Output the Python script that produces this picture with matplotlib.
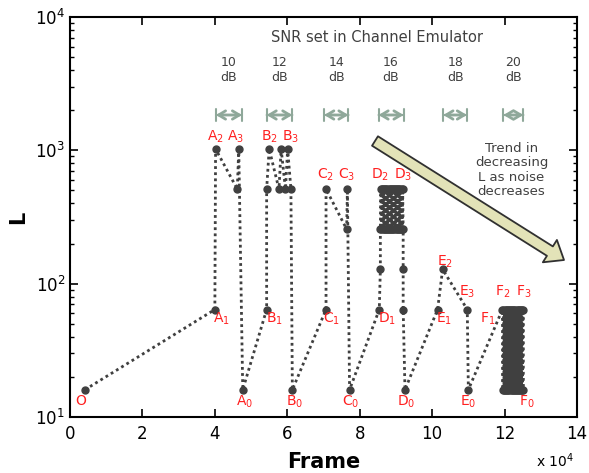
import matplotlib
matplotlib.use("Agg")
import matplotlib.pyplot as plt
import matplotlib.transforms as mtransforms

# ---- data (frame in units of 1e4, L values) ----
frames = [0.41, 4.00, 4.02, 4.62, 4.66, 4.77,
          5.43, 5.43, 5.50, 5.77, 5.83, 5.95, 6.01, 6.10, 6.14,
          7.07, 7.07, 7.64, 7.66, 7.72,
          8.54, 8.57, 8.57,
          8.585, 8.600, 8.615, 8.630, 8.645, 8.660, 8.675, 8.690, 8.705, 8.720,
          8.735, 8.750, 8.765, 8.780, 8.795, 8.810, 8.825, 8.840, 8.855, 8.870,
          8.885, 8.900, 8.915, 8.930, 8.945, 8.960, 8.975, 8.990, 9.005, 9.020,
          9.035, 9.050, 9.065, 9.080, 9.095, 9.110, 9.125, 9.140, 9.155, 9.170,
          9.185, 9.200,
          9.20, 9.20, 9.25,
          10.15, 10.29, 10.97, 11.00,
          11.94,
          11.955, 11.970, 11.985, 12.000, 12.015, 12.030, 12.045, 12.060, 12.075, 12.090,
          12.105, 12.120, 12.135, 12.150, 12.165, 12.180, 12.195, 12.210, 12.225, 12.240,
          12.255, 12.270, 12.285, 12.300, 12.315, 12.330, 12.345, 12.360, 12.375, 12.390,
          12.405, 12.420, 12.435, 12.450, 12.465, 12.480, 12.495, 12.510, 12.520]
L_values = [16, 64, 1024, 512, 1024, 16,
            64, 512, 1024, 512, 1024, 512, 1024, 512, 16,
            64, 512, 256, 512, 16,
            64, 128, 256,
            512, 256, 512, 256, 512, 256, 512, 256, 512, 256,
            512, 256, 512, 256, 512, 256, 512, 256, 512, 256,
            512, 256, 512, 256, 512, 256, 512, 256, 512, 256,
            512, 256, 512, 256, 512, 256, 512, 256, 512, 256,
            512, 256,
            128, 64, 16,
            64, 128, 64, 16,
            64,
            16, 64, 16, 64, 16, 64, 16, 64, 16, 64,
            16, 64, 16, 64, 16, 64, 16, 64, 16, 64,
            16, 64, 16, 64, 16, 64, 16, 64, 16, 64,
            16, 64, 16, 64, 16, 64, 16, 64, 16]

point_labels = ["O", "A$_1$", "A$_2$", "A$_3$", "A$_0$",
                "B$_1$", "B$_2$", "B$_3$", "B$_0$",
                "C$_1$", "C$_2$", "C$_3$", "C$_0$",
                "D$_1$", "D$_2$", "D$_3$", "D$_0$",
                "E$_1$", "E$_2$", "E$_3$", "E$_0$",
                "F$_1$", "F$_2$", "F$_3$", "F$_0$"]
label_frames = [0.41, 4.00, 4.02, 4.66, 4.77,
                5.43, 5.50, 6.01, 6.14,
                7.07, 7.07, 7.66, 7.72,
                8.54, 8.57, 9.20, 9.25,
                10.15, 10.29, 10.97, 11.00,
                11.94, 11.94, 12.52, 12.52]
label_L = [16, 64, 1024, 1024, 16,
           64, 1024, 1024, 16,
           64, 512, 512, 16,
           64, 512, 512, 16,
           64, 128, 64, 16,
           64, 64, 64, 16]
label_offsets = [(-4, -11), (7, -9), (0, 12), (-3, 12), (2, -12),
                 (8, -9), (0, 12), (3, 12), (2, -12),
                 (6, -9), (-1, 14), (-1, 14), (1, -12),
                 (8, -9), (0, 14), (0, 14), (1, -12),
                 (7, -9), (2, 8), (0, 18), (0, -12),
                 (-15, -9), (0, 18), (0, 18), (3, -12)]

snr_labels = ["10\ndB", "12\ndB", "14\ndB", "16\ndB", "18\ndB", "20\ndB"]
snr_start = [4.03, 5.43, 7.02, 8.52, 10.31, 11.97]
snr_end = [4.75, 6.14, 7.69, 9.21, 10.96, 12.52]

xticks = [0, 2, 4, 6, 8, 10, 12, 14]

# ---- figure ----
fig = plt.figure(figsize=(5.89, 4.73), dpi=100)
ax = fig.add_axes([70/589, 1-417/473, 507/589, 400/473])

dark = "#404040"
ax.plot(frames, L_values, linestyle=(0, (1, 1.2)), color=dark, lw=2.0,
        marker="o", markersize=5, markerfacecolor=dark, markeredgecolor=dark)

ax.set_yscale("log")
ax.set_xlim(0, 14)
ax.set_ylim(10, 1e4)
ax.set_xticks(xticks)
ax.set_xticklabels([str(t) for t in xticks])
ax.tick_params(which="both", direction="in", top=True, right=True, labelsize=12)
ax.tick_params(which="major", length=6, width=1.2)
ax.tick_params(which="minor", length=3, width=1.0)
ax.tick_params(axis="x", pad=6)
for s in ax.spines.values():
    s.set_linewidth(1.5)

ax.set_xlabel("Frame", fontsize=15, fontweight="bold", labelpad=6)
ax.set_ylabel("L", fontsize=15, fontweight="bold", labelpad=5)
fig.text(555/589, 1-461/473, "x 10$^4$", fontsize=10, ha="center", va="center")

red = "#ff2020"
for txt, fx, lv, off in zip(point_labels, label_frames, label_L, label_offsets):
    ax.annotate(txt, xy=(fx, lv), xytext=off, textcoords="offset pixels",
                ha="center", va="center", color=red, fontsize=10)

trans = mtransforms.blended_transform_factory(ax.transData, ax.transAxes)
arrow_col = "#8fa89a"
for lab, s0, s1 in zip(snr_labels, snr_start, snr_end):
    ax.annotate("", xy=(s1, 0.755), xytext=(s0, 0.755), xycoords=trans,
                textcoords=trans,
                arrowprops=dict(arrowstyle="<->,head_length=0.5,head_width=0.3",
                                color=arrow_col, lw=2, shrinkA=0, shrinkB=0))
    ax.annotate("", xy=(s1, 0.755), xytext=(s0, 0.755), xycoords=trans,
                textcoords=trans,
                arrowprops=dict(arrowstyle="|-|,widthA=0.4,widthB=0.4",
                                color=arrow_col, lw=1.5, shrinkA=0, shrinkB=0))
    ax.text((s0 + s1) / 2, 0.8675, lab, transform=trans, ha="center", va="center",
            fontsize=9, color=dark, linespacing=1.25)

ax.text(0.605, 0.9475, "SNR set in Channel Emulator", transform=ax.transAxes,
        ha="center", va="center", fontsize=10.5, color=dark)
ax.text(0.871, 0.6175, "Trend in\ndecreasing\nL as noise\ndecreases", transform=ax.transAxes,
        ha="center", va="center", fontsize=9.5, color=dark, linespacing=1.15)

ax.annotate("", xy=(564, 473-260), xytext=(375, 473-141),
            xycoords="figure pixels", textcoords="figure pixels",
            arrowprops=dict(arrowstyle="simple,head_width=1.9,head_length=1.2,tail_width=0.8",
                            mutation_scale=10, fc="#e3e3b8", ec="#303030", lw=1.3,
                            shrinkA=0, shrinkB=0))

fig.savefig("out.png", dpi=100)
